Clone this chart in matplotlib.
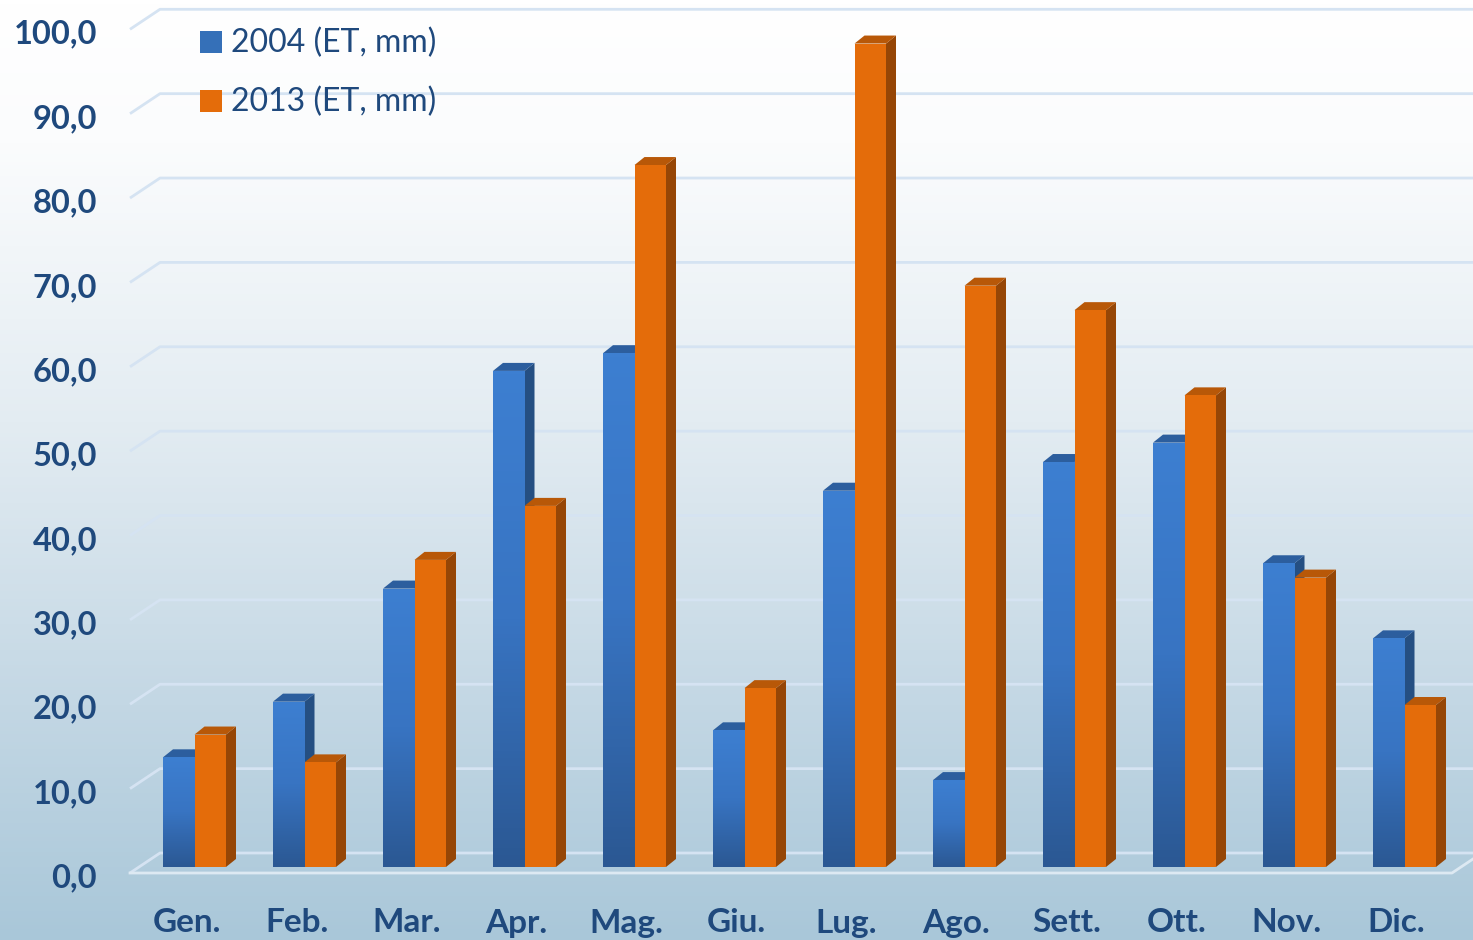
import matplotlib.pyplot as plt
import numpy as np
from matplotlib.patches import Polygon, Rectangle
from matplotlib.colors import LinearSegmentedColormap

# data (ET, mm)
months = ['Gen.', 'Feb.', 'Mar.', 'Apr.', 'Mag.', 'Giu.',
          'Lug.', 'Ago.', 'Sett.', 'Ott.', 'Nov.', 'Dic.']
et_2004 = [13.0, 19.6, 33.0, 58.8, 60.9, 16.2, 44.6, 10.3, 48.0, 50.3, 36.0, 27.1]
et_2013 = [15.7, 12.4, 36.4, 42.8, 83.2, 21.2, 97.6, 68.9, 66.0, 55.9, 34.3, 19.2]
series_names = ['2004 (ET, mm)', '2013 (ET, mm)']
yticks = np.arange(0, 101, 10)

plt.rcParams['font.family'] = ['Lato', 'DejaVu Sans']
txt_color = '#1f497d'

fig = plt.figure(figsize=(14.73, 9.40), dpi=100)

# background gradient (white at top -> light steel blue at bottom)
bg = fig.add_axes([0, 0, 1, 1])
bg_cmap = LinearSegmentedColormap.from_list(
    'bg', [(0.0, '#a9c7d9'), (0.25, '#c3d7e4'), (0.55, '#e3ecf2'),
           (0.85, '#fbfcfd'), (1.0, '#ffffff')])
bg.imshow(np.linspace(0, 1, 256).reshape(-1, 1), cmap=bg_cmap, aspect='auto',
          origin='lower', extent=[0, 1, 0, 1])
bg.axis('off')

ax = fig.add_axes([0, 0, 1, 1])
ax.patch.set_alpha(0)
ax.axis('off')

# pixel geometry of the pseudo-3D chart
px_x = 110.0      # px per category
px_y = 8.437      # px per mm
x0_px, y0_px = 194.5, 867.0

bar_w = 31.5 / px_x
ddx, ddy = 10 / px_x, 8 / px_y                 # bar depth
front_off, back_off = -6 / px_y, 14 / px_y     # floor front/back
left_front = (130 - x0_px) / px_x
left_back = (160 - x0_px) / px_x
right_front = (1452 - x0_px) / px_x
right_edge = (1480 - x0_px) / px_x

grid_c = '#d5e3f2'
for v in yticks:
    ax.plot([left_front, left_back, right_edge],
            [v + front_off, v + back_off, v + back_off],
            color=grid_c, lw=2, zorder=1, solid_capstyle='butt')
# floor front edge
ax.plot([left_front, right_front, right_front + (left_back - left_front)],
        [front_off, front_off, back_off], color='#dde9f2', lw=2, zorder=1)

blue_cmap = LinearSegmentedColormap.from_list('blue', ['#2b5893', '#3874c2', '#3d7fd1'])
grad = np.linspace(0, 1, 128).reshape(-1, 1)

def draw_bar(x, h, front, side, top, cmap=None):
    ax.add_patch(Polygon([(x + bar_w, 0), (x + bar_w + ddx, ddy),
                          (x + bar_w + ddx, h + ddy), (x + bar_w, h)],
                         closed=True, fc=side, ec='none', zorder=2))
    ax.add_patch(Polygon([(x, h), (x + ddx, h + ddy),
                          (x + bar_w + ddx, h + ddy), (x + bar_w, h)],
                         closed=True, fc=top, ec='none', zorder=2))
    b = ax.bar(x, h, width=bar_w, align='edge', color=front,
               edgecolor='none', zorder=3)[0]
    if cmap is not None:
        im = ax.imshow(grad, cmap=cmap, aspect='auto', origin='lower',
                       extent=[x, x + bar_w, 0, h], zorder=3)
        im.set_clip_path(b)

for i in range(len(months)):
    draw_bar(i - bar_w, et_2004[i], '#3570b8', '#254f82', '#2c5e9e', blue_cmap)
    draw_bar(i, et_2013[i], '#e46c0a', '#964606', '#b85808')

# y tick labels (front plane)
for v in yticks:
    ax.text((97 - x0_px) / px_x, v + front_off - 5 / px_y, f'{v:.1f}'.replace('.', ','),
            ha='right', va='center', fontsize=23.5, fontweight='bold', color=txt_color)

# x labels
for i, m in enumerate(months):
    ax.text(i - 8 / px_x, (y0_px - 923) / px_y, m, ha='center', va='center',
            fontsize=24, fontweight='bold', color=txt_color)

ax.set_xlim(-x0_px / px_x, (1473 - x0_px) / px_x)
ax.set_ylim((y0_px - 940) / px_y, y0_px / px_y)

# legend
for k, (name, col) in enumerate(zip(series_names, ['#3570b8', '#e46c0a'])):
    yc = 42 + 59 * k
    fig.patches.append(Rectangle((200 / 1473, 1 - (yc + 11) / 940), 22 / 1473, 22 / 940,
                                 transform=fig.transFigure, fc=col, ec='none'))
    fig.text(231 / 1473, 1 - (yc + 1) / 940, name, ha='left', va='center',
             fontsize=23, color=txt_color)

fig.savefig('out.png', dpi=100)
